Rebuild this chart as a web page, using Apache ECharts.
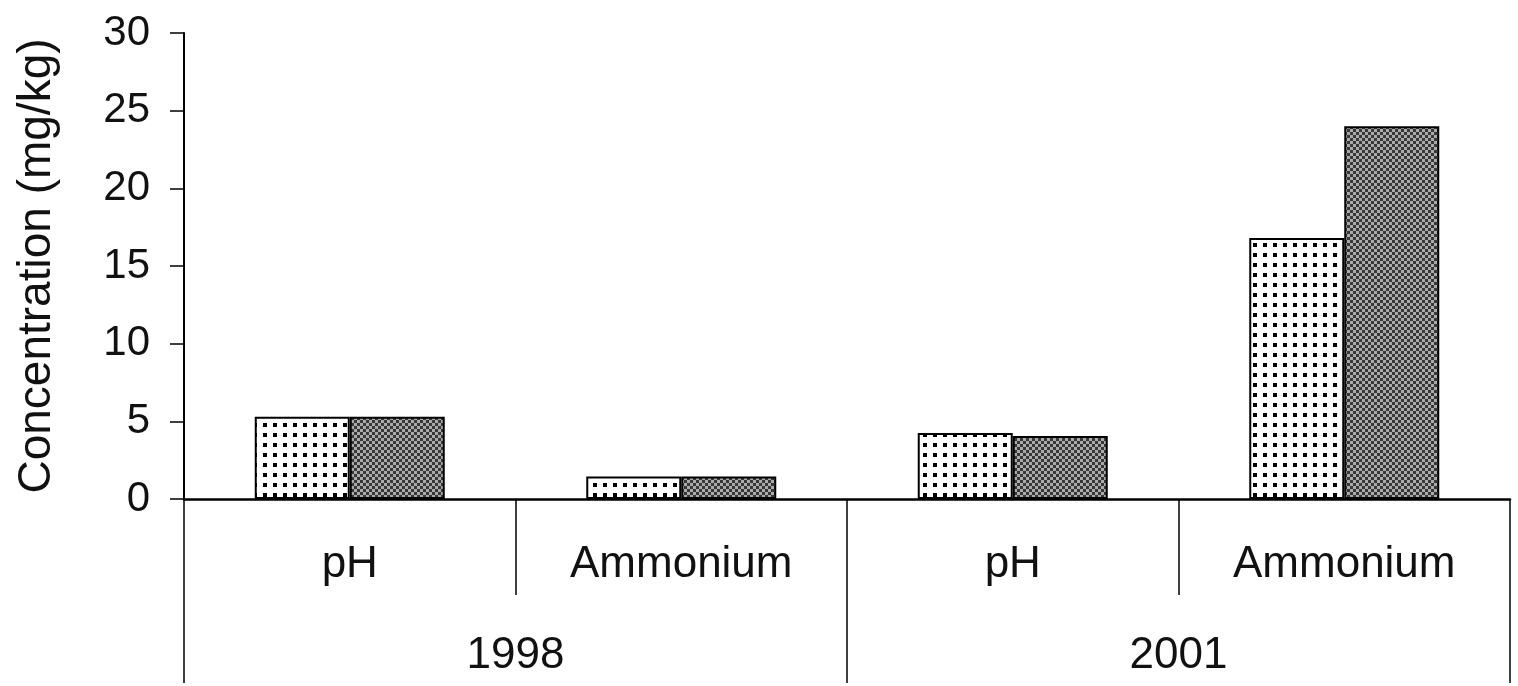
<!DOCTYPE html>
<html>
<head>
<meta charset="utf-8">
<script src="https://cdn.jsdelivr.net/npm/echarts@6/dist/echarts.min.js"></script>
<style>
  html, body { margin: 0; padding: 0; background: #fff; }
  #chart { width: 1518px; height: 686px; }
</style>
</head>
<body>
<div id="chart"></div>
<script>
// chart values
var categories = ['pH', 'Ammonium', 'pH', 'Ammonium'];
var years = ['1998', '2001'];
var dottedValues = [5.3, 1.45, 4.25, 16.8];
var checkerValues = [5.3, 1.45, 4.05, 24.0];
var yTicks = { min: 0, max: 30, interval: 5 };

// fill patterns
function dotPattern() {
	var c = document.createElement('canvas');
	c.width = 10; c.height = 10;
	var ctx = c.getContext('2d');
	ctx.fillStyle = '#fff';
	ctx.fillRect(0, 0, 10, 10);
	ctx.fillStyle = '#000';
	ctx.fillRect(3, 3, 4, 4);
	return c;
}
function checkerPattern() {
	var c = document.createElement('canvas');
	c.width = 6; c.height = 6;
	var ctx = c.getContext('2d');
	ctx.fillStyle = '#aaaaaa';
	ctx.fillRect(0, 0, 6, 6);
	ctx.fillStyle = '#383838';
	ctx.fillRect(0, 0, 3, 3);
	ctx.fillRect(3, 3, 3, 3);
	return c;
}

var font = 'Liberation Sans, Arial, sans-serif';
var chart = echarts.init(document.getElementById('chart'));

var option = {
	animation: false,
	backgroundColor: '#fff',
	grid: { left: 184, right: 8, top: 33, bottom: 187 },
	xAxis: [
		{
			type: 'category',
			data: categories,
			position: 'bottom',
			axisLine: { show: true, lineStyle: { color: '#000', width: 2.5 } },
			axisTick: { show: true, interval: 0, length: 96, lineStyle: { color: '#000', width: 1.5 } },
			axisLabel: { interval: 0, margin: 44, color: '#111', fontSize: 44, fontFamily: font }
		},
		{
			type: 'category',
			data: years,
			position: 'bottom',
			axisLine: { show: false },
			axisTick: { show: true, interval: 0, length: 184, lineStyle: { color: '#000', width: 1.5 } },
			axisLabel: { interval: 0, margin: 135, color: '#111', fontSize: 44, fontFamily: font }
		}
	],
	yAxis: {
		type: 'value',
		min: yTicks.min,
		max: yTicks.max,
		interval: yTicks.interval,
		name: 'Concentration (mg/kg)',
		nameLocation: 'middle',
		nameGap: 124,
		nameTextStyle: { color: '#111', fontSize: 46, fontFamily: font },
		axisLine: { show: true, lineStyle: { color: '#000', width: 2 } },
		axisTick: { show: true, length: 14, lineStyle: { color: '#000', width: 1.5 } },
		axisLabel: { margin: 34, color: '#111', fontSize: 42, fontFamily: font },
		splitLine: { show: false }
	},
	series: [
		{
			name: 'dotted',
			type: 'bar',
			xAxisIndex: 0,
			data: dottedValues,
			barWidth: 95,
			barGap: '0%',
			itemStyle: { color: { image: dotPattern(), repeat: 'repeat' }, borderColor: '#000', borderWidth: 2 }
		},
		{
			name: 'checker',
			type: 'bar',
			xAxisIndex: 0,
			data: checkerValues,
			barWidth: 95,
			barGap: '0%',
			itemStyle: { color: { image: checkerPattern(), repeat: 'repeat' }, borderColor: '#000', borderWidth: 2 }
		}
	]
};

chart.setOption(option);
</script>
</body>
</html>
